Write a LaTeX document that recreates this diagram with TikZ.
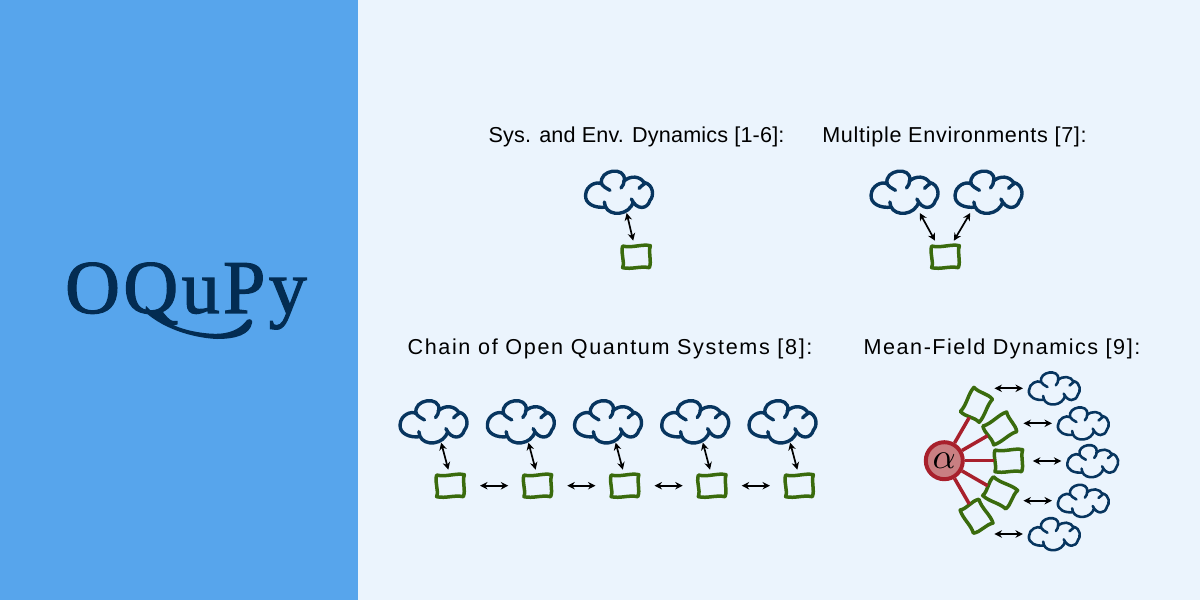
\documentclass[tikz,border=0pt]{standalone}
\usepackage{graphicx}
\usepackage{fontspec}
\newfontfamily\titlefont{Liberation Sans}
\newfontfamily\logofont[LetterSpace=4.5,FakeBold=1.6]{Liberation Serif}
\usetikzlibrary{positioning,calc,arrows.meta}
\definecolor{leftblue}{HTML}{57A5EC}
\definecolor{rightblue}{HTML}{EBF4FD}
\definecolor{navy}{HTML}{032C52}
\definecolor{cloudblue}{HTML}{07355F}
\definecolor{sysgreen}{HTML}{3A6B0D}
\definecolor{fieldred}{HTML}{A8202C}
\definecolor{fieldfill}{HTML}{C97F82}
\tikzset{
	title/.style={font=\titlefont\fontsize{21.6}{26}\selectfont,inner sep=0pt,anchor=center},
	ghost/.style={inner sep=0pt,outer sep=0pt},
	biarrow/.style={<->,>={Stealth[length=7.5pt,width=7.5pt]},line width=1.7pt},
	fieldline/.style={fieldred,line width=3.5pt},
	alphanode/.style={circle,draw=fieldred,fill=fieldfill,line width=4pt,minimum size=37pt,inner sep=0pt},
	cloudpic/.pic={
		\draw[scale=1/3,shift={(-147,-97)},cloudblue,line cap=round,line join=round]
		(120,92) .. controls (108,85) and (98,80) .. (95,72)
		.. controls (85,30) and (168,18) .. (163,62)
		.. controls (163,72) and (158,78) .. (153,85)
		(160,66) .. controls (180,46) and (212,48) .. (224,72)
		.. controls (218,76) and (212,80) .. (207,86)
		(222,68) .. controls (252,75) and (252,110) .. (240,122)
		.. controls (232,150) and (200,152) .. (184,118)
		(190,125) .. controls (180,168) and (118,172) .. (106,140)
		.. controls (104,135) and (103,131) .. (103,127)
		(108,142) .. controls (75,147) and (43,132) .. (47,105)
		.. controls (48,78) and (80,63) .. (95,73);
	},
	syspic/.pic={
		\draw[scale=1/3,shift={(-197,-289)},sysgreen,line width=3.5pt,line join=round,line cap=round]
		(157,257) .. controls (185,264) and (215,250) .. (240,256)
		.. controls (233,280) and (245,300) .. (237,322)
		.. controls (210,316) and (185,328) .. (157,322)
		.. controls (164,300) and (150,280) .. (157,257) -- cycle;
	},
}
% cloud: name, position, scale
\newcommand\cloudat[3]{
	\node[ghost,minimum width={68pt*#3},minimum height={42pt*#3}] (#1) at (#2) {};
	\pic[scale=#3,line width={3.4pt*#3}] at (#2) {cloudpic};
}
% system: name, position, rotation
\newcommand\sysat[3]{
	\node[ghost,rotate=#3,minimum width=28pt,minimum height=32pt] (#1) at (#2) {};
	\pic[rotate=#3] at (#2) {syspic};
}
\begin{document}
\begin{tikzpicture}[x=1pt,y=-1pt]
	\useasboundingbox (0,0) rectangle (1200,600);
	\fill[rightblue] (0,0) rectangle (1200,600);
	\fill[leftblue] (0,0) rectangle (358,600);
	% logo
	\node[ghost,text=navy,font=\logofont\fontsize{76}{76}\selectfont] (logo) at (186,296) {OQuPy};
	\fill[navy] (146,306) .. controls (163,323) and (180,329) .. (197,332)
		.. controls (215,335) and (235,336) .. (247,320)
		.. controls (250,318) and (253,320) .. (252,323)
		.. controls (250,335) and (235,339) .. (217,339)
		.. controls (195,338) and (165,330) .. (145,312) -- cycle;
	% titles
	\node[title] (titleA) at (636.5,136.5) {\addfontfeature{LetterSpace=.8}Sys. and Env. Dynamics [1-6]:};
	\node[title] (titleB) at (954.5,136.5) {\addfontfeature{LetterSpace=3.2}Multiple Environments [7]:};
	\node[title] (titleC) at (610,348.5) {\addfontfeature{LetterSpace=7.6}Chain of Open Quantum Systems [8]:};
	\node[title] (titleD) at (1002,348.5) {\addfontfeature{LetterSpace=7}Mean-Field Dynamics [9]:};
	% single environment
	\cloudat{cloudA}{619,192}{1}
	\sysat{sysA}{636,256.7}{0}
	\draw[biarrow] (cloudA.-70) -- (sysA.100);
	% two environments
	\cloudat{cloudBa}{904.5,192}{1}
	\cloudat{cloudBb}{988.5,192}{1}
	\sysat{sysB}{945,256.7}{0}
	\draw[biarrow] (cloudBa.-54) -- (sysB.122);
	\draw[biarrow] (cloudBb.-131) -- (sysB.61);
	% chain
	\foreach \n/\x in {1/450,2/537.3,3/624.5,4/711.7,5/799}{
		\cloudat{cloudC\n}{\x-16.5,421.6}{1}
		\sysat{sysC\n}{\x,485.7}{0}
		\draw[biarrow] (cloudC\n.-70) -- (sysC\n.96);
	}
	\foreach \n/\m in {1/2,2/3,3/4,4/5}
		\draw[biarrow,shorten <=16pt,shorten >=15pt] (sysC\n) -- (sysC\m);
	% mean field
	\node[alphanode] (alpha) at (944.3,460.7) {\scalebox{3.6}{$\alpha$}};
	\foreach \n/\a/\x/\y in {1/60/1054.3/388.3,2/30/1083.3/423.3,3/0/1092.7/461,4/-30/1083.3/500.7,5/-60/1054.3/534}{
		\sysat{sysD\n}{$(alpha)+({64*cos(\a)},{-64*sin(\a)})$}{\a}
		\draw[fieldline] (alpha) -- (sysD\n);
		\cloudat{cloudD\n}{\x,\y}{.76}
		\coordinate[left=34pt of cloudD\n.west] (freeD\n);
		\draw[biarrow,shorten >=5.5pt] (freeD\n) -- (cloudD\n.west);
	}
\end{tikzpicture}
\end{document}
